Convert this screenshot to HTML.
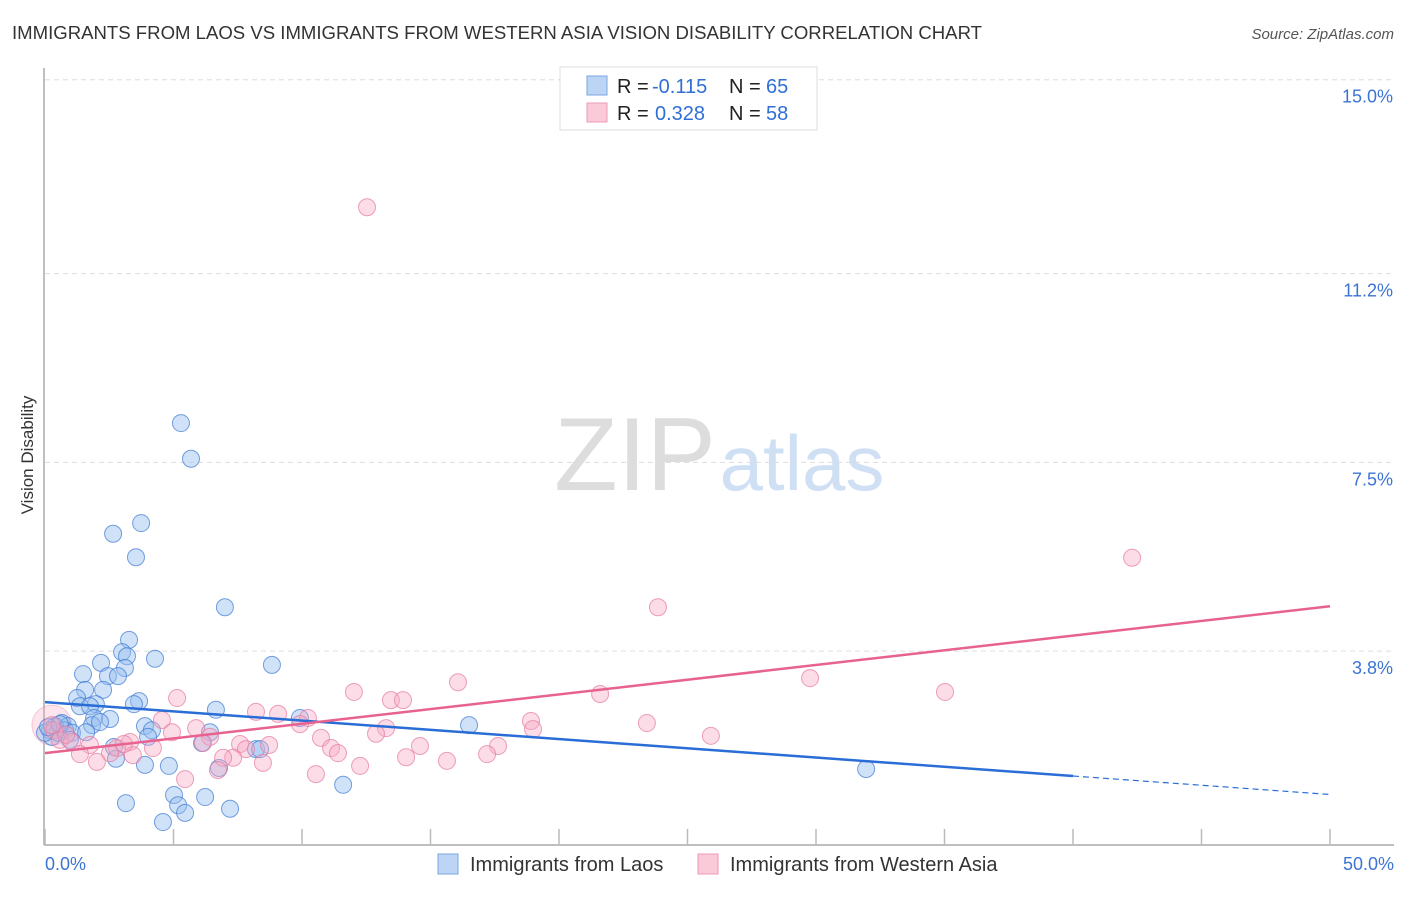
<!DOCTYPE html>
<html><head><meta charset="utf-8"><style>
body{margin:0;background:#fff;font-family:"Liberation Sans",sans-serif}
svg text{font-family:"Liberation Sans",sans-serif}
</style></head><body>
<svg id="chart" width="1406" height="892" xmlns="http://www.w3.org/2000/svg">
<text x="12" y="39" font-size="18.6" fill="#333" textLength="970" lengthAdjust="spacingAndGlyphs">IMMIGRANTS FROM LAOS VS IMMIGRANTS FROM WESTERN ASIA VISION DISABILITY CORRELATION CHART</text>
<text x="1394" y="39" font-size="15" fill="#555" font-style="italic" text-anchor="end">Source: ZipAtlas.com</text>
<text x="635" y="490" font-size="104" fill="#ddd" font-family="Liberation Serif" text-anchor="middle">ZIP</text>
<text x="802" y="490" font-size="78" fill="#cfe0f5" text-anchor="middle">atlas</text>
<text transform="translate(33,455) rotate(-90)" font-size="17" fill="#333" text-anchor="middle">Vision Disability</text>
<g id="grid"></g><g id="axes"></g><g id="pts"></g><g id="lines"></g>
<g>
<rect x="560" y="67" width="257" height="63" fill="#fff" stroke="#ddd"/>
<rect x="587" y="76" width="20" height="19" fill="#bcd5f5" stroke="#7aa7e0"/>
<rect x="587" y="103" width="20" height="19" fill="#fbcad8" stroke="#ee9ab4"/>
<text x="617" y="93" font-size="20" fill="#222">R =</text>
<text x="652" y="93" font-size="20" fill="#2f6fd6">-0.115</text>
<text x="729" y="93" font-size="20" fill="#222">N =</text>
<text x="766" y="93" font-size="20" fill="#2f6fd6">65</text>
<text x="617" y="120" font-size="20" fill="#222">R =</text>
<text x="655" y="120" font-size="20" fill="#2f6fd6">0.328</text>
<text x="729" y="120" font-size="20" fill="#222">N =</text>
<text x="766" y="120" font-size="20" fill="#2f6fd6">58</text>
</g>
<g>
<rect x="438" y="854" width="20" height="20" fill="#bcd5f5" stroke="#7aa7e0"/>
<text x="470" y="871" font-size="20" fill="#333">Immigrants from Laos</text>
<rect x="698" y="854" width="20" height="20" fill="#fbcad8" stroke="#ee9ab4"/>
<text x="730" y="871" font-size="20" fill="#333">Immigrants from Western Asia</text>
</g>
</svg>
<script>
const blueX=[5.29,5.68,3.74,2.65,3.54,7.00,3.27,3.00,2.18,4.28,8.83,1.48,3.19,3.11,2.45,2.84,1.56,2.26,1.25,3.66,3.46,1.98,1.36,1.75,6.65,1.91,2.53,9.92,16.50,0.66,0.89,0.39,3.89,1.83,0.19,0.27,0.51,0.78,1.05,1.60,4.16,6.42,4.01,6.11,2.68,8.21,8.37,2.76,3.89,4.82,6.77,31.95,11.60,5.02,3.15,6.23,5.18,5.45,7.20,4.59,0.0,0.12,0.58,2.14,0.97];
const blueY=[8.27,7.57,6.31,6.10,5.64,4.66,4.02,3.78,3.57,3.65,3.53,3.35,3.70,3.47,3.31,3.31,3.04,3.04,2.88,2.82,2.76,2.76,2.72,2.72,2.65,2.49,2.47,2.49,2.35,2.39,2.33,2.33,2.33,2.35,2.25,2.12,2.20,2.25,2.20,2.21,2.25,2.21,2.12,2.00,1.92,1.88,1.88,1.69,1.57,1.55,1.51,1.49,1.18,0.98,0.82,0.94,0.78,0.63,0.71,0.45,2.20,2.31,2.37,2.41,2.06];
const pinkX=[12.53,42.30,23.85,29.77,35.02,16.07,12.02,21.60,5.14,13.46,13.93,8.21,9.07,10.23,4.55,18.91,23.42,9.92,18.99,5.88,4.94,13.27,12.88,6.42,25.91,10.74,6.15,8.72,7.59,3.31,4.20,14.59,17.63,0.35,0.58,1.05,1.75,2.80,3.42,7.82,11.13,11.40,1.36,2.53,7.32,17.20,6.93,14.05,2.02,8.48,15.64,12.26,10.54,6.73,5.45,0.27,0.82,3.07];
const pinkY=[12.50,5.63,4.66,3.27,3.00,3.19,3.00,2.96,2.88,2.84,2.84,2.61,2.57,2.49,2.45,2.43,2.39,2.37,2.27,2.29,2.21,2.29,2.18,2.12,2.14,2.10,2.00,1.96,1.98,2.02,1.90,1.94,1.94,2.25,2.06,2.02,1.96,1.90,1.76,1.88,1.90,1.80,1.78,1.80,1.71,1.78,1.71,1.72,1.63,1.61,1.65,1.55,1.39,1.47,1.29,2.35,2.16,1.98];
const yTicks=[15.0,11.2,7.5,3.8];
const yTickLabels=["15.0%","11.2%","7.5%","3.8%"];
const xTicks=[0,5,10,15,20,25,30,35,40,45,50];
const blueTrend=[2.80,0.99];
const pinkTrend=[1.80,4.68];
const NS="http://www.w3.org/2000/svg";
const xs=v=>45+v*25.7, ys=v=>845-v*51.02;
function mk(t,a,p){const e=document.createElementNS(NS,t);for(const k in a)e.setAttribute(k,a[k]);document.getElementById(p).appendChild(e);return e;}
yTicks.forEach((t,i)=>{
 const l=mk('line',{x1:45,x2:1394,y1:ys(t),y2:ys(t),stroke:'#ddd','stroke-dasharray':'5,4'},'grid');
 
 
 const tx=mk('text',{x:1393,y:ys(t)+23,'font-size':18,fill:'#3d74d4','text-anchor':'end'},'grid');
 tx.textContent=yTickLabels[i];
 
 
});
const ax=mk('line',{x1:44,x2:44,y1:68,y2:845,stroke:'#aaa','stroke-width':1.5},'axes');


const bx=mk('line',{x1:44,x2:1394,y1:845,y2:845,stroke:'#aaa','stroke-width':1.5},'axes');


xTicks.forEach(t=>{const l=mk('line',{x1:xs(t),x2:xs(t),y1:829,y2:845,stroke:'#bbb','stroke-width':1.5},'axes');
 
 });
const x0=mk('text',{x:45,y:870,'font-size':18,fill:'#3d74d4'},'axes');x0.textContent='0.0%';


const x1=mk('text',{x:1394,y:870,'font-size':18,fill:'#3d74d4','text-anchor':'end'},'axes');x1.textContent='50.0%';


const big=mk('circle',{cx:xs(pinkX[55]),cy:ys(pinkY[55]),r:20,fill:'rgba(247,170,195,0.3)',stroke:'rgba(235,130,165,0.4)'},'pts');


blueX.forEach((v,i)=>{const c=mk('circle',{cx:xs(v),cy:ys(blueY[i]),r:8.5,fill:'rgba(150,190,240,0.45)',stroke:'rgba(60,120,210,0.7)','stroke-width':1},'pts');
 
 });
pinkX.forEach((v,i)=>{const c=mk('circle',{cx:xs(v),cy:ys(pinkY[i]),r:8.5,fill:'rgba(247,170,195,0.4)',stroke:'rgba(230,120,160,0.7)','stroke-width':1},'pts');
 
 });
const bAt=x=>blueTrend[0]+(blueTrend[1]-blueTrend[0])*x/50;
const l1=mk('line',{x1:xs(0),y1:ys(bAt(0)),x2:xs(40),y2:ys(bAt(40)),stroke:'#2a6dd6','stroke-width':2.5},'lines');


const l2=mk('line',{x1:xs(40),y1:ys(bAt(40)),x2:xs(50),y2:ys(bAt(50)),stroke:'#2a6dd6','stroke-width':1.2,'stroke-dasharray':'6,4'},'lines');


const l3=mk('line',{x1:xs(0),y1:ys(pinkTrend[0]),x2:xs(50),y2:ys(pinkTrend[1]),stroke:'#e8628f','stroke-width':2.5},'lines');


</script>
</body></html>
